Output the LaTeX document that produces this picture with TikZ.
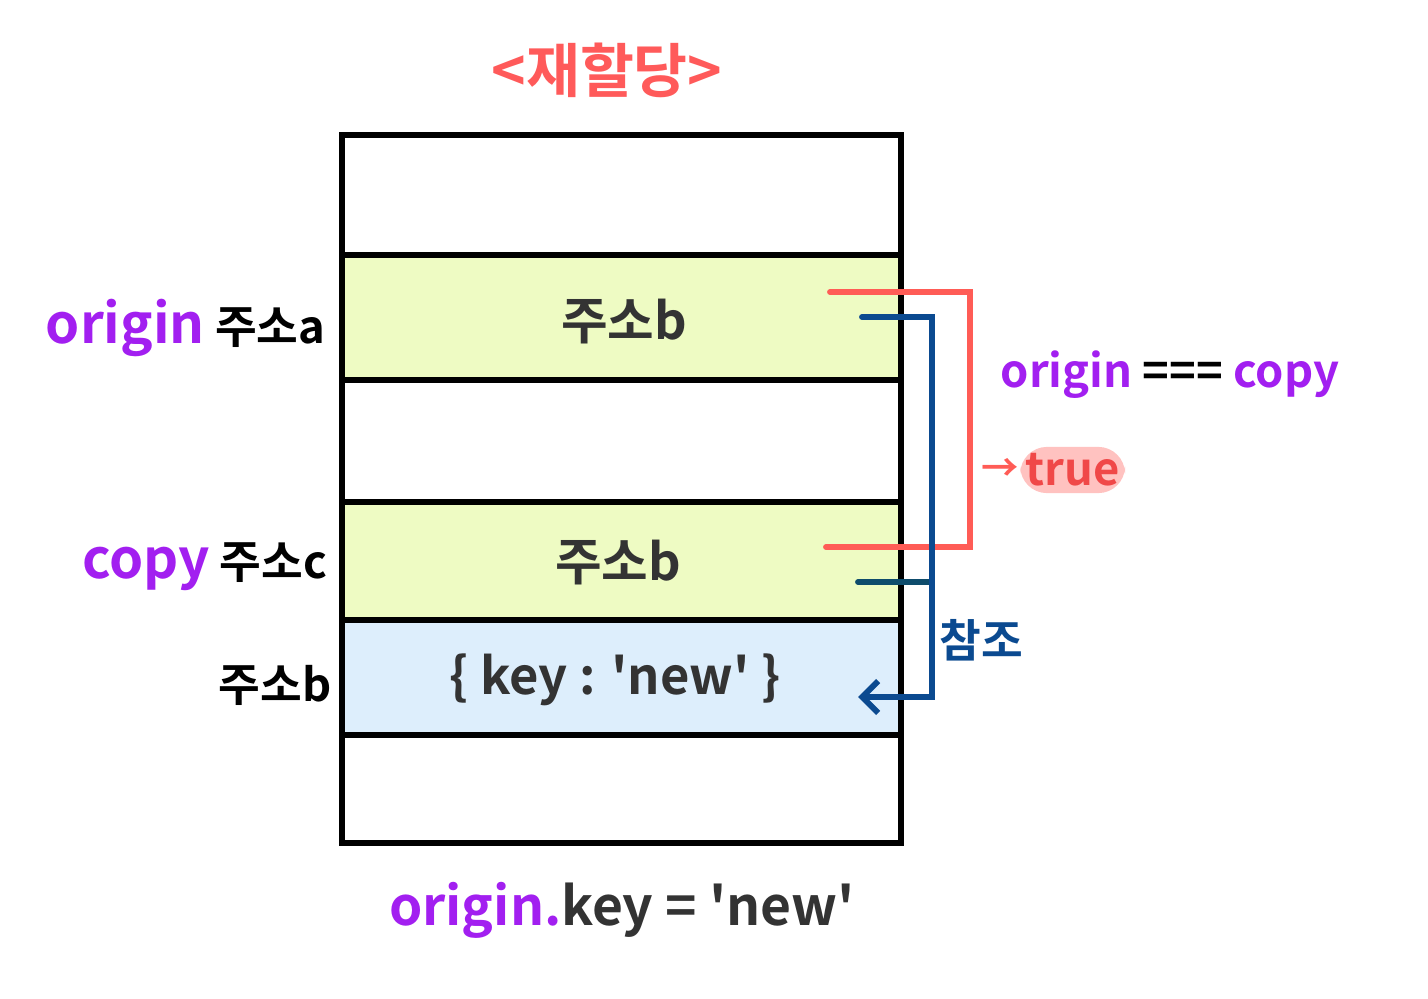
\documentclass[tikz,border=0pt]{standalone}
\usepackage{fontspec}
\setmainfont{Noto Sans CJK KR}[BoldFont={Noto Sans CJK KR Bold}, Ligatures=TeXOff]
\usetikzlibrary{arrows.meta}

\definecolor{origpurple}{HTML}{A21FF0}
\definecolor{titlered}{HTML}{FF5A5A}
\definecolor{linered}{HTML}{FF5C56}
\definecolor{refblue}{HTML}{0B4A90}
\definecolor{refteal}{HTML}{0E4C6C}
\definecolor{cellgreen}{HTML}{EEFBC3}
\definecolor{cellblue}{HTML}{DDEEFC}
\definecolor{inkgray}{HTML}{333333}
\definecolor{truepink}{HTML}{FFC2C0}
\definecolor{truered}{HTML}{F04848}

\newcommand\engbig[1]{{\fontsize{41}{44}\selectfont #1}}

\tikzset{
  celltext/.style={text=inkgray, font=\bfseries\fontsize{38}{40}\selectfont},
  labeltext/.style={font=\bfseries\fontsize{34}{38}\selectfont},
  bracketline/.style={line width=4.4pt, line cap=round, line join=miter}
}

\begin{document}
\begin{tikzpicture}[x=0.75pt, y=-0.75pt]
		\useasboundingbox (0,0) rectangle (1428,999);
		
		% Titolo
		\node[labeltext, text=titlered, font=\bfseries\fontsize{44}{48}\selectfont] (title) at (607,70) {<재할당>};
		
		% Celle
		\fill[cellgreen] (342,255) rectangle (901,380);
		\fill[cellgreen] (342,502) rectangle (901,620);
		\fill[cellblue] (342,620) rectangle (901,735);
		\draw[line width=4.5pt] (342,135) rectangle (901,843);
		\foreach \y in {255,380,502,620,735}
			\draw[line width=4.5pt] (342,\y) -- (901,\y);
		
		\node[celltext] (cellA) at (624,322) {주소b};
		\node[celltext] (cellC) at (618,563) {주소b};
		\node[celltext] (cellB) at (615,680) {\{ key : 'new' \}};
		
		% Etichette a sinistra
		\node[labeltext, anchor=east] (labA) at (330,328) {\textcolor{origpurple}{\engbig{origin}} 주소a};
		\node[labeltext, anchor=east] (labC) at (332,567) {\textcolor{origpurple}{\engbig{copy}} 주소c};
		\node[labeltext, anchor=east] (labB) at (336,685) {주소b};
		
		% Confronto
		\coordinate (redA) at (830,292);
		\coordinate (redC) at (826,547);
		\draw[bracketline, linered] (redA) -- ++(140,0) |- (redC);
		\node[labeltext, anchor=west] (cmp) at (996,375) {\textcolor{origpurple}{origin} === \textcolor{origpurple}{copy}};
		\node[labeltext, text=truered, fill=truepink, inner xsep=4pt, inner ysep=5pt, anchor=west, rounded corners=20pt] (res) at (1020,470) {true};
		\node[labeltext, text=linered, anchor=east, font=\bfseries\fontsize{28}{30}\selectfont, inner sep=1pt] (arr) at (res.west) {→};
		
		% Riferimento
		\coordinate (blueA) at (862,317);
		\coordinate (blueC) at (858,582);
		\coordinate (blueB) at (858,697);
		\draw[bracketline, refteal] (blueC) -- (932,582);
		\draw[bracketline, refblue, -{Straight Barb[length=12pt, width=24pt, line width=4.4pt]}] (blueA) -- ++(70,0) |- (blueB);
		\node[labeltext, text=refblue] (ref) at (981,640) {참조};
		
		% Assegnazione
		\node[labeltext, text=inkgray, font=\bfseries\fontsize{40}{44}\selectfont] (assign) at (622,910) {\textcolor{origpurple}{origin.}key = 'new'};
	\end{tikzpicture}
\end{document}
